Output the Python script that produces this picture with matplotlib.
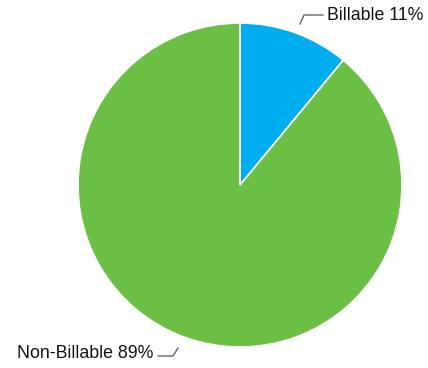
import matplotlib.pyplot as plt

labels = ["Billable", "Non-Billable"]
values = [11, 89]
colors = ["#00adef", "#6cbf45"]

W, H = 428, 368
fig = plt.figure(figsize=(W / 100, H / 100), dpi=100)
ax = fig.add_axes([0, 0, 1, 1])

cx, cy, r = 240, 185, 162
# y axis points down (pixel-style), so start at -90 and go counterclockwise
# in data terms, which reads as clockwise from the top on screen
ax.pie(values, colors=colors, startangle=-90, counterclock=True,
       center=(cx, cy), radius=r, frame=True,
       wedgeprops=dict(edgecolor="white", linewidth=1.2))
ax.set_xlim(0, W)
ax.set_ylim(H, 0)
ax.set_aspect("equal")
ax.axis("off")

font = dict(family="Liberation Sans", fontsize=12.8, color="#111111")
line = dict(color="#555555", linewidth=0.9)

# callout lines and labels
ax.plot([300, 304, 323], [24, 15, 15], **line)
ax.text(327, 15, f"{labels[0]} {values[0]}%", ha="left", va="center", **font)
ax.plot([158, 173, 178], [356, 356, 348], **line)
ax.text(153, 354, f"{labels[1]} {values[1]}%", ha="right", va="center", **font)

fig.savefig("out.png", dpi=100)
